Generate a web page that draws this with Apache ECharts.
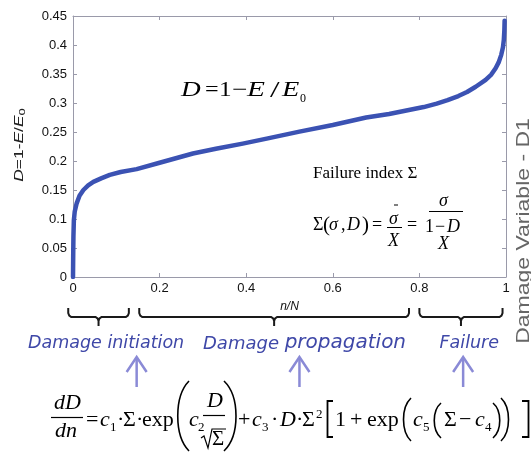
<!DOCTYPE html>
<html><head><meta charset="utf-8">
<script src="https://cdn.jsdelivr.net/npm/echarts@6/dist/echarts.min.js"></script>
<style>html,body{margin:0;padding:0;background:#fff}#c{width:531px;height:452px}</style>
</head><body><div id="c"></div>
<script>
// ---- data ----
const nN = [0, 0.0005, 0.001, 0.002, 0.004, 0.0085, 0.015, 0.024, 0.035, 0.047, 0.065, 0.085, 0.11, 0.147, 0.2, 0.277, 0.33, 0.392, 0.45, 0.523, 0.6, 0.677, 0.73, 0.77, 0.81, 0.84, 0.865, 0.89, 0.91, 0.93, 0.953, 0.966, 0.976, 0.983, 0.989, 0.993, 0.995, 0.9962, 0.9968];
const Dval = [0, 0.04, 0.07, 0.098, 0.113, 0.127, 0.14, 0.150, 0.158, 0.164, 0.170, 0.176, 0.181, 0.186, 0.197, 0.213, 0.221, 0.230, 0.239, 0.2506, 0.262, 0.275, 0.281, 0.287, 0.293, 0.299, 0.305, 0.312, 0.319, 0.328, 0.340, 0.349, 0.360, 0.370, 0.383, 0.396, 0.409, 0.425, 0.442];
const xTickStep = 0.2;
const yTickStep = 0.05;
const phaseNames = ['Damage initiation', 'Damage propagation', 'Failure'];
const phaseStart = [-0.011, 0.153, 0.80];
const phaseEnd = [0.129, 0.776, 0.992];
const arrowAt = [0.147, 0.523, 0.901];

const chart = echarts.init(document.getElementById('c'), null, {renderer: 'canvas'});
const frame = '#9a9aaa';
const common = {
  type: 'value', min: 0, splitLine: {show: false},
  axisLine: {show: true, onZero: false, lineStyle: {color: frame, width: 1}},
  axisTick: {show: true, inside: true, length: 4, lineStyle: {color: frame}}
};
const lbl = {fontSize: 13, color: '#111', fontFamily: 'Liberation Sans'};
chart.setOption({
  animation: false,
  backgroundColor: '#fff',
  grid: {left: 73, right: 25, top: 16, bottom: 175, containLabel: false},
  xAxis: [
    Object.assign({}, common, {max: 1, interval: xTickStep, position: 'bottom',
      axisLabel: Object.assign({margin: 5}, lbl),
      name: 'n/N', nameLocation: 'middle', nameGap: 24,
      nameTextStyle: {fontSize: 12, fontStyle: 'italic', color: '#111', fontFamily: 'Liberation Sans'}}),
    Object.assign({}, common, {max: 1, interval: xTickStep, position: 'top', axisLabel: {show: false}})
  ],
  yAxis: [
    Object.assign({}, common, {max: 0.45, interval: yTickStep, position: 'left',
      axisLabel: Object.assign({margin: 6}, lbl)}),
    Object.assign({}, common, {max: 0.45, interval: yTickStep, position: 'right', axisLabel: {show: false}})
  ],
  series: [{
    type: 'line', xAxisIndex: 0, yAxisIndex: 0,
    data: nN.map((x, i) => [x, Dval[i]]),
    showSymbol: false, smooth: false,
    lineStyle: {color: '#3b52b3', width: 4.5, cap: 'round', join: 'round'}
  }]
});

// ---- annotations ----
const G = [];
const serif = 'Liberation Serif';
function T(x, yBase, str, size, italic, sx) {
  return {type: 'text', x: x, y: yBase - 0.3 * size, z: 10, scaleX: sx || 1,
    style: {text: str, fontSize: size, fontFamily: serif, fontStyle: italic ? 'italic' : 'normal',
      fill: '#000', align: 'left', verticalAlign: 'middle'}};
}
function L(x1, y1, x2, y2, w, c) {
  return {type: 'line', z: 10, shape: {x1: x1, y1: y1, x2: x2, y2: y2}, style: {stroke: c || '#000', lineWidth: w || 1}};
}
function PL(pts, w) {
  return {type: 'polyline', z: 10, shape: {points: pts}, style: {stroke: '#000', lineWidth: w || 1.2, fill: null}};
}
function Paren(x, top, bot, bulge, w) {
  const h = bot - top;
  return {type: 'bezierCurve', z: 10, shape: {x1: x, y1: top, x2: x, y2: bot,
    cpx1: x - bulge, cpy1: top + h * 0.22, cpx2: x - bulge, cpy2: top + h * 0.78},
    style: {stroke: '#000', lineWidth: w || 1.6, fill: null}};
}
// y-axis title (stretched along its length as in the reference)
G.push({type: 'text', x: 20, y: 145, rotation: Math.PI / 2, scaleX: 1.45, z: 10,
  style: {text: '{i|D}=1-{i|E}/{i|E}{s|0}', fontSize: 12, fontFamily: 'Liberation Sans', fill: '#222',
    align: 'center', verticalAlign: 'middle',
    rich: {i: {fontSize: 12, fontStyle: 'italic', fontFamily: 'Liberation Sans', fill: '#222'},
           s: {fontSize: 9, verticalAlign: 'bottom', fontFamily: 'Liberation Sans', fill: '#222', padding: [5, 0, 0, 0]}}}});
// D = 1 - E/E0
G.push(T(181, 97, 'D', 21, true, 1.3), T(205, 97, '=', 21, false, 1.15), T(219, 97, '1', 21, false, 1.2),
  T(232, 97, '\u2212', 21, false, 1.3), T(247, 97, 'E', 21, true, 1.4), T(270, 98, '/', 23, false, 1.5),
  T(282, 97, 'E', 21, true, 1.35), T(300, 102, '0', 12));
// Failure index
G.push(T(313, 179, 'Failure index \u03a3', 17));
// Sigma(sigma,D) = sigma-bar/X = (sigma/(1-D))/X
G.push(T(313, 231, '\u03a3', 18), T(323, 232, '(', 21), T(329, 231, '\u03c3', 18, true), T(341, 231, ',', 18),
  T(347, 231, 'D', 18, true), T(362, 232, ')', 21), T(372, 231, '=', 18));
G.push(T(389, 225, '\u03c3', 18, true), L(394, 205, 398, 205, 1), L(387, 227.5, 402, 227.5, 1), T(388, 247, 'X', 18, true));
G.push(T(407, 231, '=', 18));
G.push(T(439, 207, '\u03c3', 18, true), L(429, 211.5, 463, 211.5, 1),
  T(425, 233, '1', 18), T(435, 233, '\u2212', 18), T(447, 233, 'D', 18, true),
  T(438, 250, 'X', 18, true));
// bottom formula
const B = 427;
G.push(T(54, 410, 'dD', 22, true), L(51, 417.5, 83, 417.5, 1.2), T(55, 438, 'dn', 22, true));
G.push(T(86, B, '=', 22), T(100, B, 'c', 22, true), T(110, B + 4, '1', 13), T(117, B, '\u00b7', 22),
  T(123, B, '\u03a3', 22), T(136, B, '\u00b7', 22), T(142, B, 'exp', 22));
G.push(Paren(189, 381, 451, 15));
G.push(T(189, B, 'c', 22, true), T(198, B + 4, '2', 13));
G.push(T(207, 408, 'D', 22, true), L(203, 415.5, 225, 415.5, 1.2));
G.push(PL([[201, 438], [204, 436], [208, 448], [212, 429], [226, 429]], 1.2));
G.push(T(212, 446, '\u03a3', 21));
G.push(Paren(224, 381, 451, -16));
G.push(T(238, B, '+', 22), T(252, B, 'c', 22, true), T(262, B + 4, '3', 13), T(271, B, '\u00b7', 22),
  T(280, B, 'D', 22, true), T(296, B, '\u00b7', 22), T(302, B, '\u03a3', 22), T(316, B - 9, '2', 13));
G.push(PL([[333, 401], [327.5, 401], [327.5, 437], [333, 437]], 1.8));
G.push(T(335, B, '1', 22), T(350, B, '+', 22), T(367, B, 'exp', 22), Paren(411, 398, 441, 10),
  T(413, B, 'c', 22, true), T(423, B + 4, '5', 13), Paren(441, 403, 438, 9), T(444, B, '\u03a3', 22),
  T(459, B, '\u2212', 22), T(475, B, 'c', 22, true), T(485, B + 4, '4', 13), Paren(493, 403, 438, -9), Paren(501, 398, 441, -10));
G.push(PL([[522, 401], [528.5, 401], [528.5, 437], [522, 437]], 1.8));

// braces + arrows (positioned from n/N values)
const px = v => chart.convertToPixel({xAxisIndex: 0}, v);
for (let k = 0; k < phaseStart.length; k++) {
  const a = px(phaseStart[k]), b = px(phaseEnd[k]), m = (a + b) / 2;
  G.push({type: 'polyline', z: 10, shape: {points: [[a, 308], [a, 313], [a + 1, 315.5], [a + 3, 317], [m - 3, 317], [m - 1, 318.5], [m, 321], [m, 326], [m, 321], [m + 1, 318.5], [m + 3, 317], [b - 3, 317], [b - 1, 315.5], [b, 313], [b, 308]]},
    style: {stroke: '#1a1a1a', lineWidth: 2, fill: null}});
}
for (let k = 0; k < arrowAt.length; k++) {
  const x = px(arrowAt[k]);
  G.push(L(x, 387, x, 358, 2.5, '#8a8ad6'));
  G.push({type: 'polyline', z: 10, shape: {points: [[x - 10, 372], [x, 357], [x + 10, 372]]}, style: {stroke: '#8a8ad6', lineWidth: 2.5, fill: null}});
}
// phase labels
const blue = '#3f48a8';
G.push({type: 'text', x: 28, y: 343, z: 10, style: {text: phaseNames[0], fontSize: 17.5, fontStyle: 'italic', fontFamily: 'DejaVu Sans', fill: blue, verticalAlign: 'middle'}});
G.push({type: 'text', x: 203, y: 343, z: 10, style: {text: '{a|' + phaseNames[1].split(' ')[0] + ' }{b|' + phaseNames[1].split(' ')[1] + '}', fill: blue, verticalAlign: 'middle',
  rich: {a: {fontSize: 18, fontStyle: 'italic', fontFamily: 'DejaVu Sans', fill: blue, verticalAlign: 'bottom'},
         b: {fontSize: 20, fontStyle: 'italic', fontFamily: 'DejaVu Sans', fill: blue, verticalAlign: 'bottom'}}}});
G.push({type: 'text', x: 439.5, y: 343, z: 10, style: {text: phaseNames[2], fontSize: 17.5, fontStyle: 'italic', fontFamily: 'DejaVu Sans', fill: blue, verticalAlign: 'middle'}});
// right cropped axis title
G.push({type: 'text', x: 524, y: 231, rotation: Math.PI / 2, scaleX: 1.21, z: 10, style: {text: 'Damage Variable - D1', fontSize: 19, fontFamily: 'Liberation Sans', fill: '#666', align: 'center', verticalAlign: 'middle'}});

chart.setOption({graphic: G});
</script></body></html>
